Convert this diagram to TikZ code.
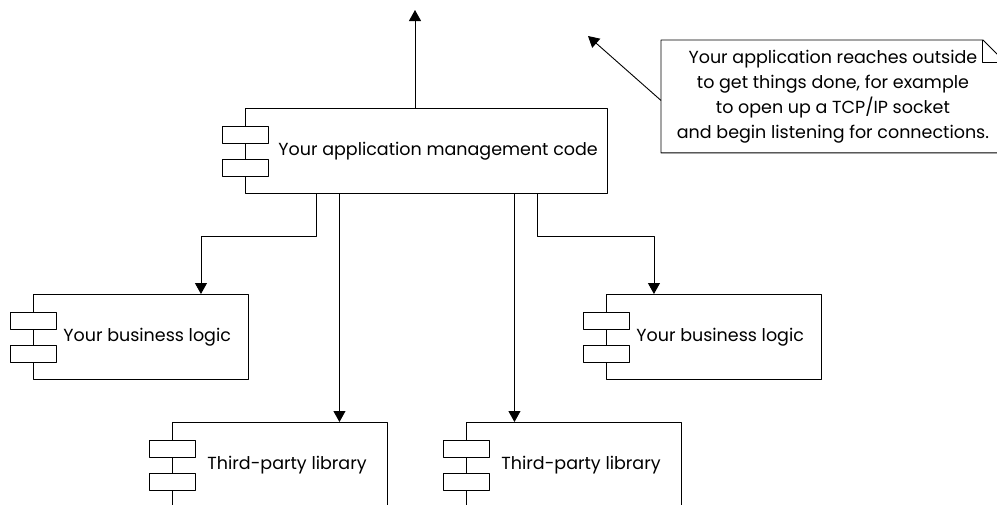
\documentclass[tikz,border=0pt]{standalone}
\usepackage{fontspec}
\setmainfont{Poppins}
\usetikzlibrary{arrows.meta}
\newcommand{\component}[6]{%
  \node[compbox, minimum width=#4, anchor=north west] (#1) at (#2,#3) {};
  \node[anchor=west, inner sep=0pt] (#1-name) at ([xshift=#5]#1.west) {#6};
  \foreach \s in {1,-1}
    \draw[fill=white] ([xshift=-23pt, yshift=\s*8pt]#1.west) rectangle ([xshift=23pt, yshift=\s*25pt]#1.west);
}
\begin{document}
\begin{tikzpicture}[x=1pt, y=-1pt, line width=0.9pt, line join=round, >={Triangle[length=11pt,width=12pt]},
  font=\fontsize{17.5}{25}\selectfont, compbox/.style={draw, minimum height=85pt, inner sep=0pt}]
\useasboundingbox (0,0) rectangle (997,504);
\component{app}{245}{108}{362pt}{33pt}{Your application management code}
\component{logicl}{33}{294}{215pt}{30pt}{Your business logic}
\component{logicr}{606}{294}{215pt}{30pt}{Your business logic}
\component{libl}{172}{422}{215pt}{35pt}{Third-party library}
\component{libr}{466}{422}{215pt}{35pt}{Third-party library}
\node[align=center, minimum width=343pt, minimum height=112pt, anchor=north west] (note) at (661,40) {Your application reaches outside\\to get things done, for example\\to open up a TCP/IP socket\\and begin listening for connections.};
\draw (note.north west) -- ([xshift=-22pt]note.north east) -- ([yshift=-22pt]note.north east) -- (note.south east) -- (note.south west) -- cycle;
\draw ([xshift=-22pt]note.north east) |- ([yshift=-22pt]note.north east);
\coordinate (outside) at (415,10);
\coordinate (reach) at (588,36);
\coordinate (l1) at ([xshift=-87pt]app.south);
\coordinate (l2) at ([xshift=88pt]app.south);
\draw[->] (outside |- app.north) -- (outside);
\draw[->] ([yshift=-4pt]note.west) -- (reach);
\draw[->] ([xshift=-110pt]app.south) -- ++(0,43) -| ([xshift=60pt]logicl.north);
\draw[->] ([xshift=111pt]app.south) -- ++(0,43) -| ([xshift=-60pt]logicr.north);
\draw[->] (l1) -- (l1 |- libl.north);
\draw[->] (l2) -- (l2 |- libr.north);
\end{tikzpicture}
\end{document}
